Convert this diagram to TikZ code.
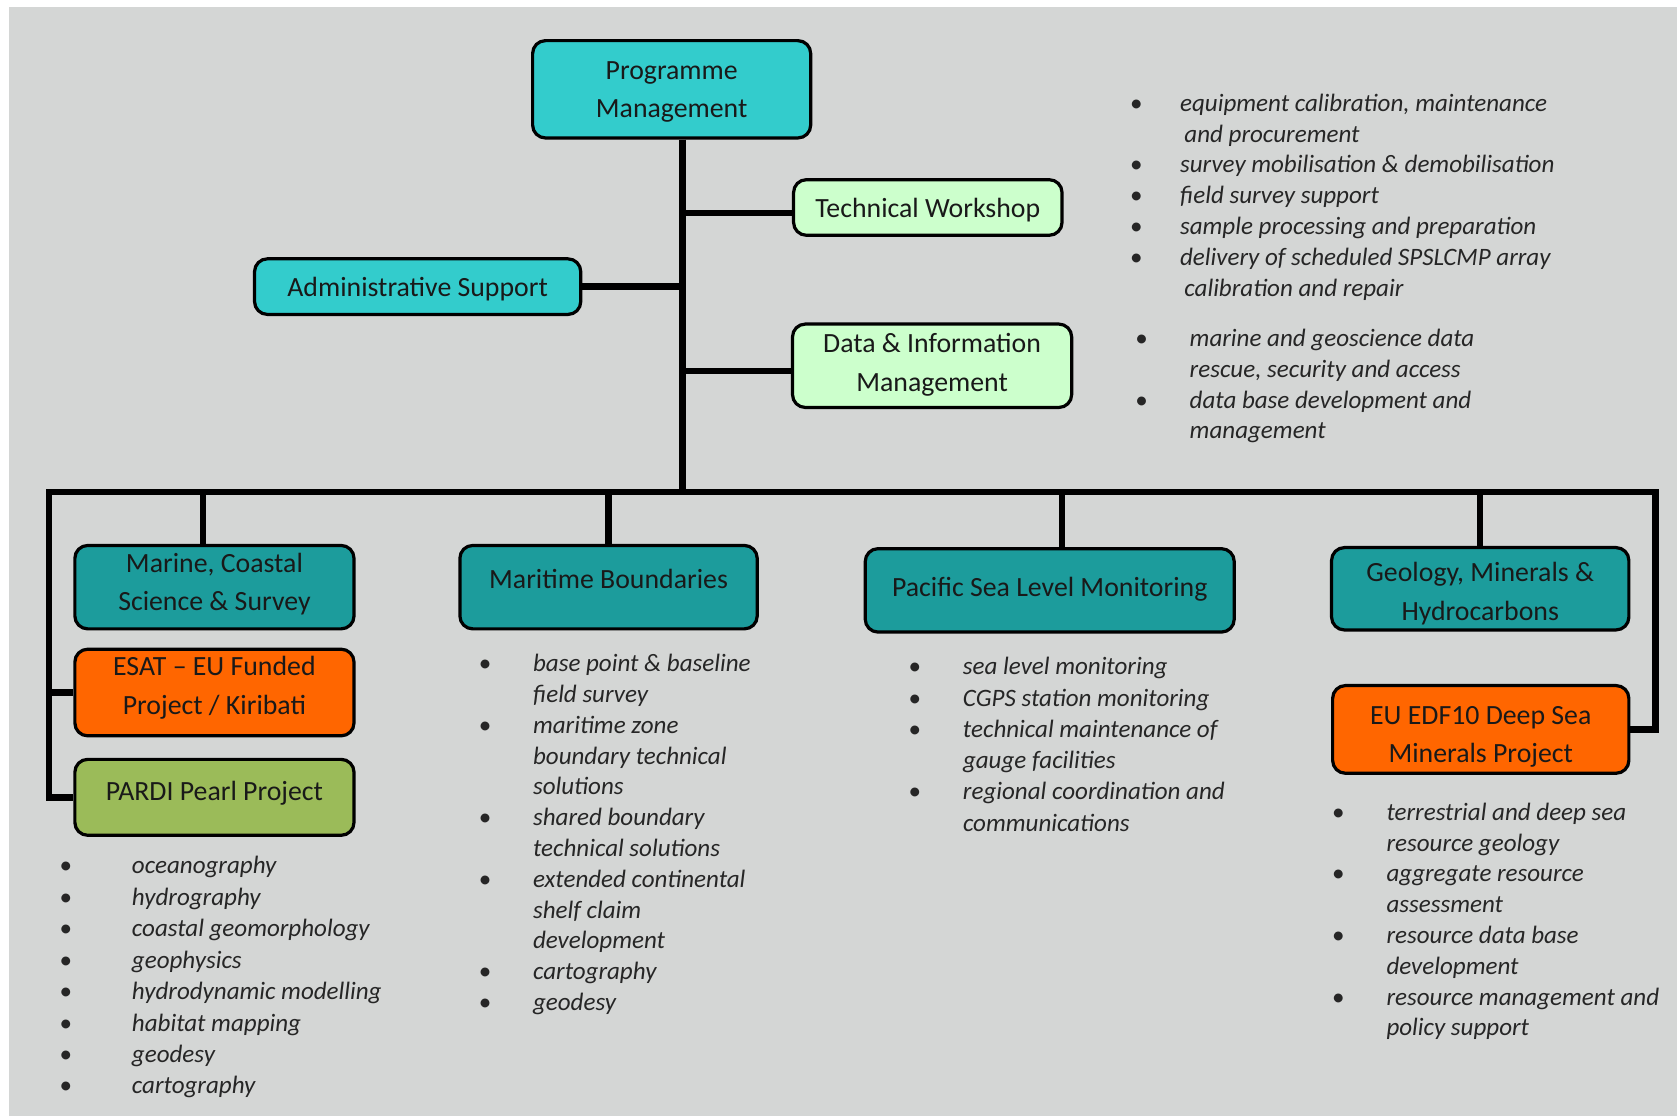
\documentclass[tikz,border=0pt]{standalone}
\usepackage{fontspec}
\setmainfont{Carlito}
\usepackage{tikz}
\definecolor{sfondo}{RGB}{212,214,213}
\definecolor{turchese}{RGB}{51,204,204}
\definecolor{verdino}{RGB}{204,255,204}
\definecolor{petrolio}{RGB}{28,156,156}
\definecolor{arancio}{RGB}{255,102,0}
\definecolor{oliva}{RGB}{155,187,89}
\newcommand{\elenco}[2]{\begin{tabular}[t]{@{}p{#1}@{}l@{}}#2\end{tabular}}

\begin{document}
\begin{tikzpicture}[x=0.5pt,y=-0.5pt,
		box/.style={draw, line width=1.5pt, rounded corners=6pt, align=center, inner sep=0pt, text height=0pt, text depth=0pt, text=black!90, font=\fontsize{13}{18}\selectfont},
		ramo/.style={line width=3pt},
		lista/.style={anchor=base west, inner sep=0pt, text=black!85, font=\fontsize{11.7}{14.4}\selectfont\itshape}]
		%\draw [help lines] (0,0) grid (1568,1043);
		\useasboundingbox (0,0) rectangle (1568,1043);
		\fill [sfondo] (8,7) rectangle (1568,1043);
		%Vertice
		\node [box, fill=turchese, minimum width=130pt, minimum height=45.5pt, text height=26.5pt] (PM) at (628,83.5) {Programme\\Management};
		\node [box, fill=verdino, minimum width=125.5pt, minimum height=26pt, text height=9pt] (TW) at (867.5,194) {Technical Workshop};
		\node [box, fill=turchese, minimum width=152.5pt, minimum height=26pt, text height=9pt] (AS) at (390.5,268) {Administrative Support};
		\node [box, fill=verdino, minimum width=130.5pt, minimum height=39pt, text height=24pt] (DIM) at (871.5,342) {Data \& Information\\Management};
		%Sezioni
		\node [box, fill=petrolio, minimum width=130.5pt, minimum height=39pt, text height=22pt] (MC) at (200.5,549) {Marine, Coastal\\Science \& Survey};
		\node [box, fill=arancio, minimum width=130.5pt, minimum height=40.5pt, text height=20.5pt] (ESAT) at (200.5,647.5) {ESAT -- EU Funded\\Project / Kiribati};
		\node [box, fill=oliva, minimum width=130.5pt, minimum height=35.5pt, text height=3pt] (PARDI) at (200.5,745.5) {PARDI Pearl Project};
		\node [box, fill=petrolio, minimum width=139pt, minimum height=39pt, text height=1pt] (MB) at (569,549) {Maritime Boundaries};
		\node [box, fill=petrolio, minimum width=172.5pt, minimum height=39pt, text height=6pt] (PSLM) at (981.5,552) {Pacific Sea Level Monitoring};
		\node [box, fill=petrolio, minimum width=139pt, minimum height=38.5pt, text height=29.5pt] (GMH) at (1384,550.5) {Geology, Minerals \&\\Hydrocarbons};
		\node [box, fill=arancio, minimum width=138.5pt, minimum height=41pt, text height=31pt] (EDF) at (1384.5,682) {EU EDF10 Deep Sea\\Minerals Project};
		%Rami
		\coordinate (nodo) at (638,460);
		\coordinate (sx) at (46,460);
		\coordinate (dx) at (1548,460);
		\draw [ramo] (PM.south -| nodo) -- (nodo);
		\draw [ramo] ([yshift=-2.5pt]TW.west) -- ([yshift=-2.5pt]TW.west -| nodo);
		\draw [ramo] (AS.east) -- (AS.east -| nodo);
		\draw [ramo] ([yshift=-2.5pt]DIM.west) -- ([yshift=-2.5pt]DIM.west -| nodo);
		\draw [ramo] (PARDI.west) -- (PARDI.west -| sx) -- (sx) -- (dx) -- (dx |- EDF.east) -- (EDF.east);
		\draw [ramo] (ESAT.west) -- (ESAT.west -| sx);
		\draw [ramo] ([xshift=-5.25pt]MC.north) -- ([xshift=-5.25pt]MC.north |- nodo);
		\draw [ramo] (MB.north) -- (MB.north |- nodo);
		\draw [ramo] ([xshift=5.75pt]PSLM.north) -- ([xshift=5.75pt]PSLM.north |- nodo);
		\draw [ramo] (GMH.north) -- (GMH.north |- nodo);
		%Elenchi
		\node [lista] (lTW) at (1056,104) {\elenco{23.5pt}{\textbullet & equipment calibration, maintenance\\ & \hspace{2pt}and procurement\\ \textbullet & survey mobilisation \& demobilisation\\ \textbullet & field survey support\\ \textbullet & sample processing and preparation\\ \textbullet & delivery of scheduled SPSLCMP array\\ & \hspace{2pt}calibration and repair}};
		\node [lista] (lDIM) at (1061,324) {\elenco{25.5pt}{\textbullet & marine and geoscience data\\ & rescue, security and access\\ \textbullet & data base development and\\ & management}};
		\node [lista, font=\fontsize{11.7}{14.7}\selectfont\itshape] (lMC) at (55,817) {\elenco{34pt}{\textbullet & oceanography\\ \textbullet & hydrography\\ \textbullet & coastal geomorphology\\ \textbullet & geophysics\\ \textbullet & hydrodynamic modelling\\ \textbullet & habitat mapping\\ \textbullet & geodesy\\ \textbullet & cartography}};
		\node [lista] (lMB) at (447,628) {\elenco{25.5pt}{\textbullet & base point \& baseline\\ & field survey\\ \textbullet & maritime zone\\ & boundary technical\\ & solutions\\ \textbullet & shared boundary\\ & technical solutions\\ \textbullet & extended continental\\ & shelf claim\\ & development\\ \textbullet & cartography\\ \textbullet & geodesy}};
		\node [lista, font=\fontsize{11.7}{14.6}\selectfont\itshape] (lPSLM) at (849,631) {\elenco{25.5pt}{\textbullet & sea level monitoring\\ \textbullet & CGPS station monitoring\\ \textbullet & technical maintenance of\\ & gauge facilities\\ \textbullet & regional coordination and\\ & communications}};
		\node [lista] (lEDF) at (1245,767) {\elenco{25.5pt}{\textbullet & terrestrial and deep sea\\ & resource geology\\ \textbullet & aggregate resource\\ & assessment\\ \textbullet & resource data base\\ & development\\ \textbullet & resource management and\\ & policy support}};
	\end{tikzpicture}
\end{document}
